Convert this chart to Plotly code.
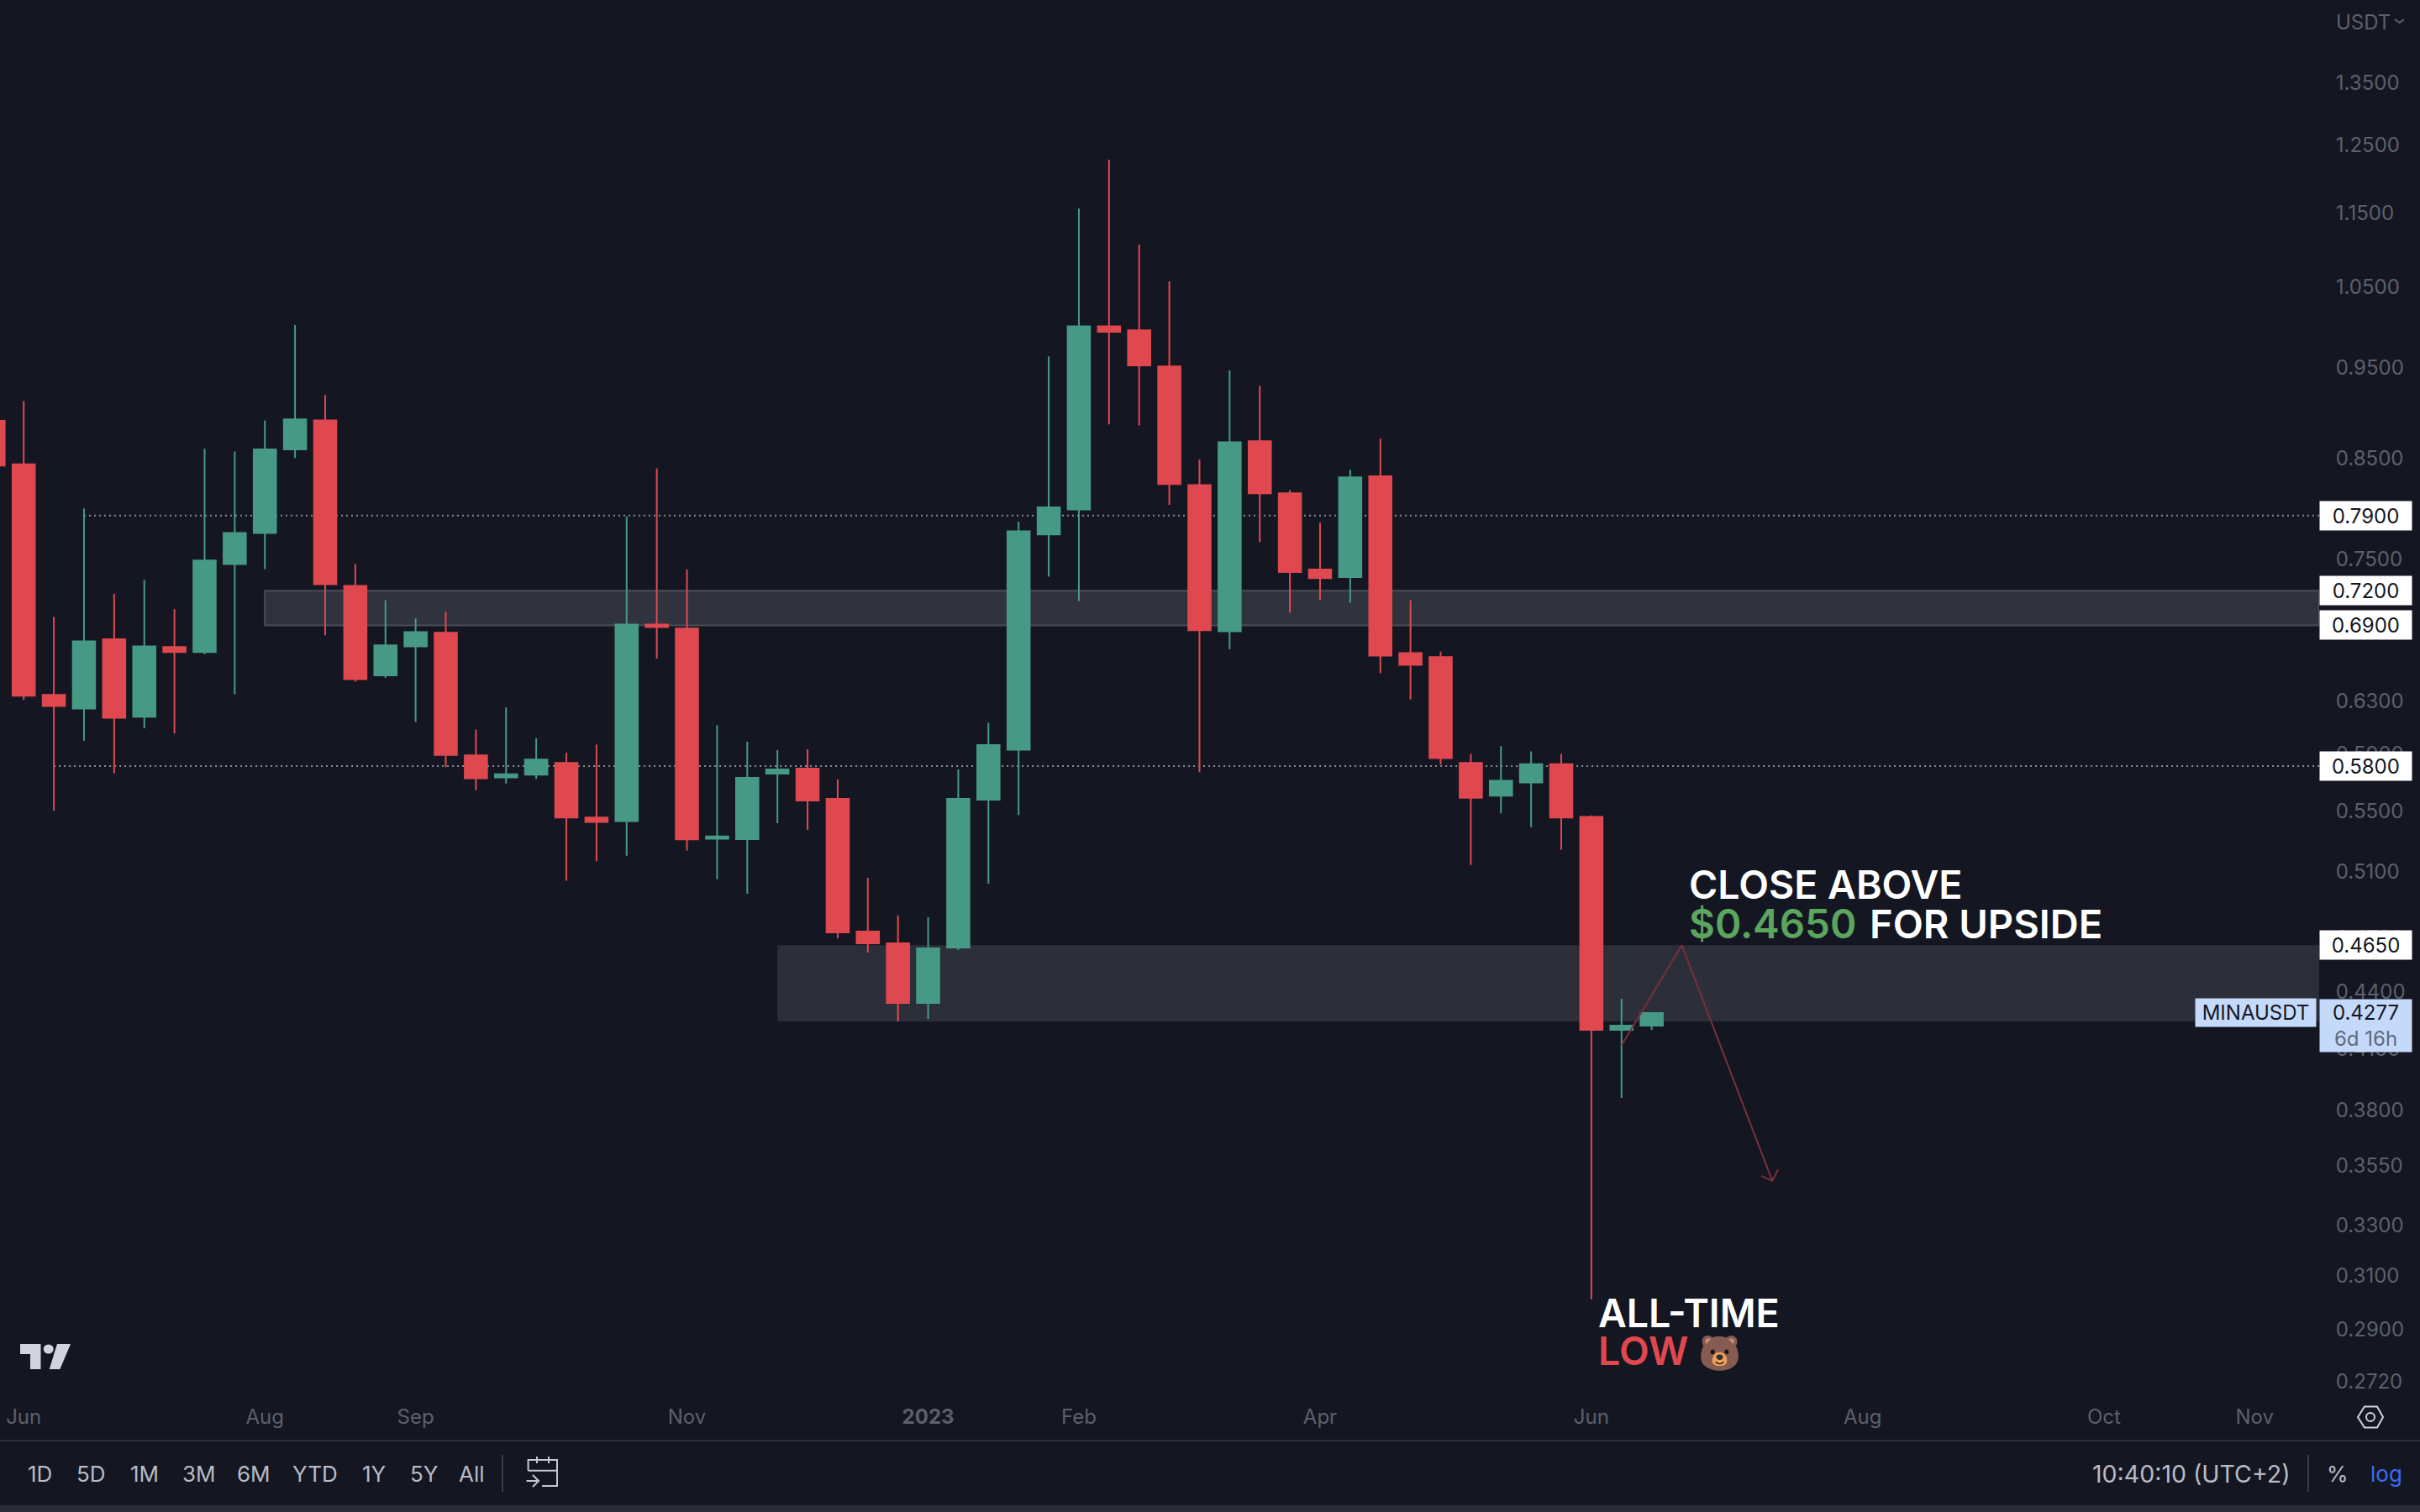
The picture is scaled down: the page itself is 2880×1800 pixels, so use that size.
import math
import pandas as pd
import plotly.graph_objects as go

# Weekly MINAUSDT candles
opens = [0.8879, 0.8417, 0.6333, 0.6226, 0.6782, 0.6164, 0.6718, 0.6676, 0.7442, 0.7733,
         0.8572, 0.8885, 0.7244, 0.6486, 0.6722, 0.6837, 0.5877, 0.5720, 0.5738, 0.5822,
         0.5443, 0.5419, 0.6906, 0.6872, 0.5302, 0.5300, 0.5746, 0.5782, 0.5570, 0.4729,
         0.4661, 0.4330, 0.4637, 0.5564, 0.5918, 0.7718, 0.7960, 0.9979, 0.9929, 0.9496,
         0.8203, 0.6850, 0.8659, 0.8121, 0.7391, 0.7322, 0.8292, 0.6668, 0.6634, 0.5822,
         0.5592, 0.5684, 0.5814, 0.5447, 0.4189, 0.4211]
highs = [0.8879, 0.9099, 0.6972, 0.7970, 0.7172, 0.7299, 0.7038, 0.8578, 0.8551, 0.8885,
         0.9992, 0.9168, 0.7442, 0.7118, 0.6959, 0.7016, 0.6068, 0.6234, 0.6003, 0.5895,
         0.5955, 0.7890, 0.8375, 0.7391, 0.6099, 0.5977, 0.5915, 0.5921, 0.5705, 0.5053,
         0.4823, 0.4813, 0.5776, 0.6118, 0.7841, 0.9616, 1.1538, 1.2255, 1.1035, 1.0547,
         0.8465, 0.9449, 0.9272, 0.8152, 0.7831, 0.8359, 0.8686, 0.7118, 0.6680, 0.5888,
         0.5944, 0.5906, 0.5888, 0.5457, 0.4353, 0.4277]
lows = [0.8402, 0.6293, 0.5488, 0.5985, 0.5749, 0.6076, 0.6038, 0.6659, 0.6337, 0.7396,
        0.8481, 0.6816, 0.6437, 0.6466, 0.6126, 0.5792, 0.5631, 0.5677, 0.5709, 0.5035,
        0.5157, 0.5193, 0.6622, 0.5226, 0.5045, 0.4955, 0.5405, 0.5361, 0.4690, 0.4608,
        0.4233, 0.4246, 0.4622, 0.5017, 0.5460, 0.7326, 0.7109, 0.8840, 0.8829, 0.8005,
        0.5756, 0.6701, 0.7646, 0.7007, 0.7118, 0.7095, 0.6506, 0.6297, 0.5811, 0.5134,
        0.5471, 0.5378, 0.5232, 0.3004, 0.3852, 0.4189]
closes = [0.8402, 0.6325, 0.6246, 0.6765, 0.6156, 0.6722, 0.6676, 0.7475, 0.7733, 0.8572,
          0.8896, 0.7258, 0.6457, 0.6731, 0.6842, 0.5880, 0.5713, 0.5742, 0.5847, 0.5443,
          0.5413, 0.6906, 0.6885, 0.5298, 0.5318, 0.5716, 0.5776, 0.5559, 0.4724, 0.4661,
          0.4330, 0.4632, 0.5570, 0.5952, 0.7748, 0.7980, 0.9979, 0.9911, 0.9508, 0.8214,
          0.6859, 0.8648, 0.8121, 0.7368, 0.7313, 0.8281, 0.6647, 0.6572, 0.5858, 0.5578,
          0.5695, 0.5814, 0.5443, 0.4189, 0.4211, 0.4277]
weeks = pd.date_range("2022-05-23", periods=len(opens), freq="7D")

price_ticks = [1.35, 1.25, 1.15, 1.05, 0.95, 0.85, 0.75, 0.63, 0.59, 0.55, 0.51, 0.47,
               0.44, 0.41, 0.38, 0.355, 0.33, 0.31, 0.29, 0.272]
time_ticks = ["2022-05-30", "2022-07-25", "2022-08-29", "2022-10-31", "2022-12-26", "2023-01-30",
              "2023-03-27", "2023-05-29", "2023-07-31", "2023-09-25", "2023-10-30"]
time_labels = ["Jun", "Aug", "Sep", "Nov", "<b>2023</b>", "Feb", "Apr", "Jun", "Aug", "Oct", "Nov"]

tag_prices = [0.79, 0.72, 0.69, 0.58, 0.465]
last_price = 0.4277
zone_upper = [0.72, 0.69]
zone_lower = [0.465, 0.4233]

# projected path, x is in weeks from the first candle
path_week = [54, 56, 59]
path_price = [0.4109, 0.465, 0.3477]
head_week = [58.64, 59, 59.2]
head_price = [0.3498, 0.3477, 0.3527]

range_labels = ["1D", "5D", "1M", "3M", "6M", "YTD", "1Y", "5Y", "All"]
range_label_x = [47, 108, 172, 237, 302, 375, 445, 504, 561]

BG = "#141722"
RED = "#e0484f"
GREEN = "#469a85"
AXIS = "#5d606b"
TOOL = "#b8bbc4"
FONT = "Inter, sans-serif"
W, H = 2880, 1800
PLOT_R, PLOT_B = 2760, 1670


def week_date(n):
    return weeks[0] + pd.Timedelta(days=7 * n)


# pixel helpers for the chrome around the chart
def px(x):
    return x / PLOT_R


def py(y):
    return 1 - y / PLOT_B


def path_of(points, close=False):
    d = "M" + " L".join(f"{px(x):.5f},{py(y):.5f}" for x, y in points)
    return d + (" Z" if close else "")


right_edge = week_date(77.14)

fig = go.Figure()

fig.add_trace(go.Scatter(x=[week_date(w) for w in path_week], y=path_price, mode="lines",
                         line=dict(color="#7a2f3a", width=2), hoverinfo="skip", showlegend=False))
fig.add_trace(go.Scatter(x=[week_date(w) for w in head_week], y=head_price, mode="lines",
                         line=dict(color="#7a2f3a", width=2), hoverinfo="skip", showlegend=False))

fig.add_trace(go.Candlestick(
    x=weeks, open=opens, high=highs, low=lows, close=closes,
    increasing=dict(line=dict(color=GREEN, width=2), fillcolor=GREEN),
    decreasing=dict(line=dict(color=RED, width=2), fillcolor=RED),
    whiskerwidth=0, hoverinfo="skip", showlegend=False,
))

# zones and dotted levels
fig.add_shape(type="rect", x0=week_date(9), x1=right_edge, y0=zone_upper[1], y1=zone_upper[0],
              fillcolor="#30333d", line=dict(color="#4a4d58", width=2), layer="below")
fig.add_shape(type="rect", x0=week_date(26), x1=right_edge, y0=zone_lower[1], y1=zone_lower[0],
              fillcolor="#2c2f39", line=dict(width=0), layer="below")
for start, level in [(3, tag_prices[0]), (2, tag_prices[3])]:
    fig.add_shape(type="line", x0=week_date(start), x1=right_edge, y0=level, y1=level,
                  line=dict(color="#8a8d96", width=2, dash="2px,4px"), layer="below")

chrome = dict(xref="paper", yref="paper")
# separators and bottom strip
fig.add_shape(type="line", x0=px(0), x1=px(W), y0=py(1715), y1=py(1715),
              line=dict(color="#2a2d38", width=2), **chrome)
fig.add_shape(type="rect", x0=px(0), x1=px(W), y0=py(1792), y1=py(H),
              fillcolor="#2a2d38", line=dict(width=0), **chrome)
for x in [598, 2747]:
    fig.add_shape(type="line", x0=px(x), x1=px(x), y0=py(1732), y1=py(1776),
                  line=dict(color="#3a3d48", width=2), **chrome)

# TradingView logo
logo = "#d1d4dc"
fig.add_shape(type="path", path=path_of([(24, 1600), (48.5, 1600), (48.5, 1630), (36, 1630), (36, 1612), (24, 1612)], True),
              fillcolor=logo, line=dict(width=0), **chrome)
fig.add_shape(type="path", path=path_of([(68, 1600), (84, 1600), (71.4, 1630), (58.7, 1630)], True),
              fillcolor=logo, line=dict(width=0), **chrome)
fig.add_shape(type="circle", x0=px(51.7), x1=px(63.7), y0=py(1600.5), y1=py(1611.5),
              fillcolor=logo, line=dict(width=0), **chrome)

# calendar icon
icon = dict(color="#c4c7cf", width=2)
for pts in [[(628.6, 1750.7), (628.6, 1738), (663, 1738), (663, 1769), (645, 1769)],
            [(628.6, 1750.7), (663, 1750.7)],
            [(639, 1734), (639, 1742)], [(653, 1734), (653, 1742)],
            [(626.5, 1763), (641, 1763)], [(634, 1756), (641, 1763), (634, 1770)]]:
    fig.add_shape(type="path", path=path_of(pts), line=icon, **chrome)

# settings hexagon
fig.add_shape(type="path", path=path_of([(2806, 1687), (2814, 1674.5), (2829, 1674.5), (2836, 1687), (2829, 1699.5), (2814, 1699.5)], True),
              line=dict(color="#d1d4dc", width=2), **chrome)
fig.add_shape(type="circle", x0=px(2816), x1=px(2826), y0=py(1682), y1=py(1692),
              line=dict(color="#d1d4dc", width=2), **chrome)

# currency chevron
fig.add_shape(type="path", path=path_of([(2850, 23), (2855.5, 27), (2861, 23)]),
              line=dict(color=AXIS, width=2), **chrome)


def note(x, y, text, size=26, color=TOOL, anchor="center", weight=None):
    fig.add_annotation(x=px(x), y=py(y), xref="paper", yref="paper", text=text, showarrow=False,
                       xanchor=anchor, yanchor="middle", align="left",
                       font=dict(family=FONT, size=size, color=color, weight=weight))


for lab, x in zip(range_labels, range_label_x):
    note(x, 1755, lab)
note(2488, 1755, "10:40:10 (UTC+2)", size=28.5, anchor="left")
note(2782, 1755, "%")
note(2840, 1755, "log", color="#3b6bf0")
note(2778, 27, "USDT", size=24, color=AXIS, anchor="left")

# chart texts
note(2008, 1053, "CLOSE ABOVE", size=46.5, color="#ffffff", anchor="left", weight=600)
note(2008, 1099, "<span style=\"color:#5ba55e;font-size:47.5px\">$0.4650</span>\u200a FOR UPSIDE", size=47,
     color="#ffffff", anchor="left", weight=600)
note(1900, 1563, "ALL-TIME", size=46.5, color="#ffffff", anchor="left", weight=600)
note(1900, 1608, f"<span style=\"color:{RED}\">LOW</span> <span style=\"font-size:41px\">🐻</span>", size=46.5,
     color="#ffffff", anchor="left", weight=600)

# price tags
for level in tag_prices:
    fig.add_annotation(x=1, xref="paper", y=math.log10(level), yref="y", text=f"{level:.4f}",
                       showarrow=False, xanchor="left", yanchor="middle", width=107, height=32,
                       bgcolor="#ffffff", font=dict(family=FONT, size=24, color="#131722"), align="center")
fig.add_annotation(x=1, xref="paper", xshift=-3, y=math.log10(last_price), yref="y", text="MINAUSDT",
                   showarrow=False, xanchor="right", yanchor="middle", width=141, height=31,
                   bgcolor="#c5dafa", font=dict(family=FONT, size=24, color="#131722"), align="center")
fig.add_annotation(x=1, xref="paper", y=math.log10(last_price), yref="y", yshift=17,
                   text=f"{last_price:.4f}<br><span style=\"color:#5f6a7d\">6d 16h</span>",
                   showarrow=False, xanchor="left", yanchor="top", width=107, height=60,
                   bgcolor="#c5dafa", font=dict(family=FONT, size=24, color="#131722"), align="center")

fig.update_layout(
    width=W, height=H, margin=dict(l=0, r=W - PLOT_R, t=0, b=H - PLOT_B, pad=0),
    paper_bgcolor=BG, plot_bgcolor=BG, boxgap=0.26, boxgroupgap=0, showlegend=False,
    xaxis=dict(type="date", range=[week_date(0.214), right_edge], rangeslider=dict(visible=False),
               tickmode="array", tickvals=time_ticks, ticktext=time_labels, showgrid=False,
               zeroline=False, showline=False, ticks="", ticklabelstandoff=0,
               tickfont=dict(family=FONT, size=24, color=AXIS)),
    yaxis=dict(type="log", side="right", range=[math.log10(0.2644), math.log10(1.4924)],
               tickmode="array", tickvals=price_ticks, ticktext=[f"{p:.4f}" for p in price_ticks],
               showgrid=False, zeroline=False, showline=False, ticks="outside", ticklen=14,
               tickcolor=BG, ticklabelshift=2, tickfont=dict(family=FONT, size=24, color=AXIS)),
)

fig.write_html("out.html", config=dict(displayModeBar=False),
               post_script="document.body.style.margin='0';document.body.style.background='" + BG + "';")
